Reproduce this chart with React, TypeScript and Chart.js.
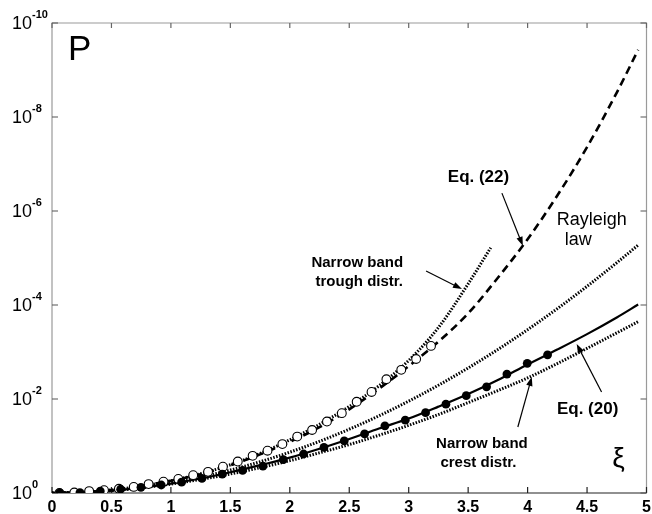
import React, { useEffect, useRef } from "react";
import { Chart, registerables } from "chart.js";

Chart.register(...registerables);

// ---- data ----
const xiCurve = [0, 0.25, 0.5, 0.75, 1, 1.25, 1.5, 1.75, 2, 2.25, 2.5, 2.75, 3, 3.25, 3.5, 3.75, 4, 4.25, 4.5, 4.75, 4.93];
const rayleighP = [1, 0.969, 0.8825, 0.7548, 0.6065, 0.4578, 0.3247, 0.2163, 0.1353, 0.0796, 0.04394, 0.0228, 0.01111, 0.005089, 0.002187, 8.84e-4, 3.35e-4, 1.195e-4, 4.0e-5, 1.26e-5, 5.3e-6];
const eq20P = [1, 0.971, 0.889, 0.769, 0.631, 0.491, 0.362, 0.256, 0.177, 0.1143, 0.0708, 0.0425, 0.0261, 0.01452, 0.00782, 0.00394, 0.001837, 8.87e-4, 4.17e-4, 1.845e-4, 9.77e-5];
const crestP = [1, 0.9716, 0.892, 0.778, 0.6457, 0.514, 0.3936, 0.289, 0.205, 0.1393, 0.0931, 0.059, 0.0363, 0.0214, 0.01194, 0.00661, 0.003565, 0.00176, 8.36e-4, 3.92e-4, 2.26e-4];
const eq22P = [1, 0.966, 0.861, 0.708, 0.55, 0.398, 0.257, 0.151, 0.0813, 0.0398, 0.0166, 0.00603, 0.002, 6.03e-4, 1.51e-4, 2.63e-5, 3.98e-6, 4.68e-7, 4.37e-8, 3.02e-9, 3.72e-10];

const xiTrough = [0, 0.25, 0.5, 0.75, 1, 1.25, 1.5, 1.75, 2, 2.25, 2.5, 2.75, 3, 3.25, 3.5, 3.69];
const troughP = [1, 0.966, 0.861, 0.716, 0.55, 0.389, 0.251, 0.1445, 0.0741, 0.0347, 0.01445, 0.00525, 0.001514, 3.02e-4, 3.55e-5, 6.03e-6];

const xiOpen = [0.0625, 0.1875, 0.3125, 0.4375, 0.5625, 0.6875, 0.8125, 0.9375, 1.0625, 1.1875, 1.3125, 1.4375, 1.5625, 1.6875, 1.8125, 1.9375, 2.0625, 2.1875, 2.3125, 2.4375, 2.5625, 2.6875, 2.8125, 2.9375, 3.0625, 3.1875];
const openP = [0.998, 0.977, 0.912, 0.871, 0.813, 0.741, 0.646, 0.575, 0.501, 0.417, 0.355, 0.275, 0.214, 0.162, 0.126, 0.0912, 0.0631, 0.0457, 0.0302, 0.02, 0.01148, 0.00708, 0.0038, 0.0024, 0.00141, 7.41e-4];

const xiFilled = [0.064, 0.235, 0.406, 0.577, 0.748, 0.919, 1.09, 1.261, 1.432, 1.603, 1.774, 1.945, 2.116, 2.287, 2.458, 2.629, 2.8, 2.971, 3.142, 3.313, 3.484, 3.655, 3.826, 3.997, 4.168];
const filledP = [0.998, 0.977, 0.912, 0.832, 0.759, 0.676, 0.589, 0.49, 0.398, 0.331, 0.269, 0.195, 0.148, 0.107, 0.0776, 0.055, 0.0372, 0.0282, 0.0195, 0.0129, 0.00851, 0.0055, 0.00295, 0.00174, 0.00115];

const xTickValues = [0, 0.5, 1, 1.5, 2, 2.5, 3, 3.5, 4, 4.5, 5];
const yTickExponents = [0, -2, -4, -6, -8, -10];

// ---- annotations (positions in data space: xi, decades below 1) ----
const FONT = "'Liberation Sans', Arial, sans-serif";
const textNotes = [
  { text: "P", xi: 0.134, dec: 9.21, font: `35px ${FONT}`, align: "left", baseline: "alphabetic" },
  { text: "Eq. (22)", xi: 3.587, dec: 6.72, font: `bold 17px ${FONT}`, align: "center", baseline: "middle" },
  { text: "Rayleigh", xi: 4.245, dec: 5.81, font: `18px ${FONT}`, align: "left", baseline: "middle" },
  { text: "law", xi: 4.312, dec: 5.383, font: `18px ${FONT}`, align: "left", baseline: "middle" },
  { text: "Narrow band", xi: 2.567, dec: 4.894, font: `bold 15px ${FONT}`, align: "center", baseline: "middle" },
  { text: "trough distr.", xi: 2.584, dec: 4.489, font: `bold 15px ${FONT}`, align: "center", baseline: "middle" },
  { text: "Eq. (20)", xi: 4.505, dec: 1.787, font: `bold 17px ${FONT}`, align: "center", baseline: "middle" },
  { text: "Narrow band", xi: 3.616, dec: 1.043, font: `bold 15px ${FONT}`, align: "center", baseline: "middle" },
  { text: "crest distr.", xi: 3.586, dec: 0.638, font: `bold 15px ${FONT}`, align: "center", baseline: "middle" },
  { text: "ξ", xi: 4.765, dec: 0.723, font: `28px ${FONT}`, align: "center", baseline: "middle" },
];
const arrowNotes = [
  { from: [3.784, 6.38], to: [3.96, 5.26] },
  { from: [3.146, 4.723], to: [3.448, 4.34] },
  { from: [4.622, 2.149], to: [4.413, 3.17] },
  { from: [3.918, 1.404], to: [4.035, 2.468] },
];

const pts = (xs: number[], ys: number[]) => xs.map((x, i) => ({ x, y: ys[i] }));

const overlay = {
  id: "overlay",
  beforeDatasetsDraw(chart: any) {
    const { ctx, chartArea: a, scales } = chart;
    const xs = scales.x, ys = scales.y;
    ctx.save();
    ctx.lineWidth = 1.2;
    ctx.strokeStyle = "#9a9a9a";
    ctx.beginPath();
    ctx.moveTo(a.left, a.bottom);
    ctx.lineTo(a.left, a.top);
    ctx.lineTo(a.right, a.top);
    ctx.lineTo(a.right, a.bottom);
    ctx.stroke();
    ctx.strokeStyle = "#222";
    ctx.beginPath();
    ctx.moveTo(a.left, a.bottom);
    ctx.lineTo(a.right, a.bottom);
    ctx.stroke();
    xTickValues.forEach((v) => {
      const x = xs.getPixelForValue(v);
      ctx.strokeStyle = "#222";
      ctx.beginPath();
      ctx.moveTo(x, a.bottom);
      ctx.lineTo(x, a.bottom - 6);
      ctx.stroke();
      ctx.strokeStyle = "#666";
      ctx.beginPath();
      ctx.moveTo(x, a.top);
      ctx.lineTo(x, a.top + 5);
      ctx.stroke();
    });
    yTickExponents.forEach((e) => {
      const y = ys.getPixelForValue(Math.pow(10, e));
      ctx.strokeStyle = "#555";
      ctx.beginPath();
      ctx.moveTo(a.left, y);
      ctx.lineTo(a.left + 6, y);
      ctx.moveTo(a.right, y);
      ctx.lineTo(a.right - 6, y);
      ctx.stroke();
      ctx.fillStyle = "#000";
      ctx.font = `18px ${FONT}`;
      ctx.textAlign = "right";
      ctx.textBaseline = "middle";
      ctx.fillText("10", a.left - 20, y + 1);
      ctx.font = `bold 11px ${FONT}`;
      ctx.textAlign = "left";
      ctx.fillText(String(e), a.left - 20, y - 8);
    });
    ctx.restore();
  },
  afterDatasetsDraw(chart: any) {
    const { ctx, scales } = chart;
    const xs = scales.x, ys = scales.y;
    const px = (xi: number) => xs.getPixelForValue(xi);
    const py = (dec: number) => ys.getPixelForValue(Math.pow(10, -dec));
    ctx.save();
    ctx.fillStyle = "#000";
    textNotes.forEach((t) => {
      ctx.font = t.font;
      ctx.textAlign = t.align;
      ctx.textBaseline = t.baseline;
      ctx.fillText(t.text, px(t.xi), py(t.dec));
    });
    ctx.strokeStyle = "#000";
    ctx.lineWidth = 1.2;
    arrowNotes.forEach((n) => {
      const x1 = px(n.from[0]), y1 = py(n.from[1]);
      const x2 = px(n.to[0]), y2 = py(n.to[1]);
      const ang = Math.atan2(y2 - y1, x2 - x1);
      const L = 9, W = 3.2;
      ctx.beginPath();
      ctx.moveTo(x1, y1);
      ctx.lineTo(x2 - L * 0.7 * Math.cos(ang), y2 - L * 0.7 * Math.sin(ang));
      ctx.stroke();
      ctx.beginPath();
      ctx.moveTo(x2, y2);
      ctx.lineTo(x2 - L * Math.cos(ang) + W * Math.sin(ang), y2 - L * Math.sin(ang) - W * Math.cos(ang));
      ctx.lineTo(x2 - L * Math.cos(ang) - W * Math.sin(ang), y2 - L * Math.sin(ang) + W * Math.cos(ang));
      ctx.closePath();
      ctx.fill();
    });
    ctx.restore();
  },
};

export default function App() {
  const ref = useRef<HTMLCanvasElement | null>(null);
  useEffect(() => {
    if (!ref.current) return;
    const lineBase = { showLine: true, pointRadius: 0, fill: false, borderColor: "#000", cubicInterpolationMode: "monotone" as const };
    const dotted = { borderWidth: 3, borderDash: [1.5, 1.5] };
    const chart = new Chart(ref.current, {
      type: "scatter",
      data: {
        datasets: [
          { label: "filled", order: 0, data: pts(xiFilled, filledP), showLine: false, pointRadius: 4.4, pointBorderWidth: 0, pointBackgroundColor: "#000", pointBorderColor: "#000" },
          { label: "open", order: 1, data: pts(xiOpen, openP), showLine: false, pointRadius: 4.4, pointBorderWidth: 1.1, pointBackgroundColor: "#fff", pointBorderColor: "#000" },
          { ...lineBase, order: 2, label: "Eq. (20)", data: pts(xiCurve, eq20P), borderWidth: 2.2 },
          { ...lineBase, order: 3, label: "Eq. (22)", data: pts(xiCurve, eq22P), borderWidth: 2.6, borderDash: [8, 5] },
          { ...lineBase, ...dotted, order: 4, label: "Narrow band trough distr.", data: pts(xiTrough, troughP) },
          { ...lineBase, ...dotted, order: 5, label: "Narrow band crest distr.", data: pts(xiCurve, crestP) },
          { ...lineBase, ...dotted, order: 6, label: "Rayleigh law", data: pts(xiCurve, rayleighP) },
        ],
      },
      options: {
        responsive: false,
        animation: false,
        devicePixelRatio: 1,
        layout: { padding: { top: 23, right: 4, left: 0, bottom: 0 } },
        plugins: { legend: { display: false }, tooltip: { enabled: false } },
        scales: {
          x: {
            type: "linear",
            min: 0,
            max: 5,
            grid: { display: false, drawTicks: false },
            border: { display: false },
            ticks: {
              stepSize: 0.5,
              color: "#000",
              padding: 5,
              maxRotation: 0,
              autoSkip: false,
              font: { family: FONT, size: 16, weight: "bold" },
              callback: (v: any) => String(Math.round(Number(v) * 10) / 10),
            },
            afterFit: (s: any) => { s.height = 21; s.paddingLeft = 0; s.paddingRight = 0; },
          },
          y: {
            type: "logarithmic",
            min: 1e-10,
            max: 1,
            reverse: true,
            grid: { display: false, drawTicks: false },
            border: { display: false },
            ticks: { display: false },
            afterBuildTicks: (s: any) => { s.ticks = yTickExponents.map((e) => ({ value: Math.pow(10, e) })); },
            afterFit: (s: any) => { s.width = 52; },
          },
        },
      } as any,
      plugins: [overlay],
    });
    return () => chart.destroy();
  }, []);
  return (
    <div style={{ position: "absolute", left: 0, top: 0, width: 652, height: 514, background: "#fff" }}>
      <canvas ref={ref} width={652} height={514} style={{ display: "block" }} />
    </div>
  );
}
